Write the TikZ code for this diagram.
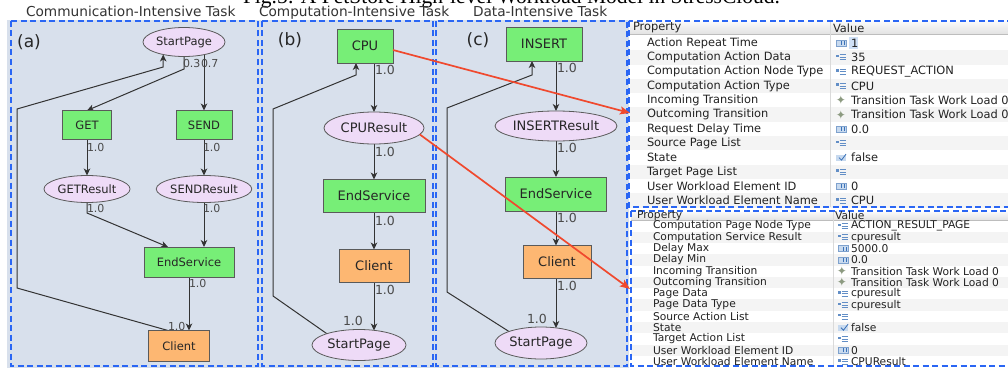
\documentclass[tikz,border=0pt]{standalone}
\usepackage{fontspec}
\setmainfont{DejaVu Sans}
\newfontfamily\captionserif{Liberation Serif}
\usetikzlibrary{arrows.meta,shapes.geometric}

\definecolor{panelbg}{HTML}{D8E0EC}
\definecolor{dashblue}{HTML}{2A66F4}
\definecolor{actgreen}{HTML}{77EE77}
\definecolor{cliorange}{HTML}{FDB772}
\definecolor{pagepink}{HTML}{EEDBF7}
\definecolor{nodeedge}{HTML}{5A5A5A}
\definecolor{nodetext}{HTML}{262626}
\definecolor{flowgray}{HTML}{333333}
\definecolor{probgray}{HTML}{4A4A4A}
\definecolor{redarrow}{HTML}{F0492E}
\definecolor{rowstripe}{HTML}{F4F4F4}
\definecolor{headtop}{HTML}{F9F9F9}
\definecolor{headbot}{HTML}{E2E2E2}
\definecolor{headline}{HTML}{BDBDBD}
\definecolor{coldiv}{HTML}{DADADA}
\definecolor{tabtext}{HTML}{222222}
\definecolor{iconfill}{HTML}{C8DAEF}
\definecolor{iconline}{HTML}{7FA2CE}
\definecolor{iconblue}{HTML}{3B72B8}
\definecolor{transicon}{HTML}{8C9A80}
\definecolor{selblue}{HTML}{CFE0F6}

\pgfdeclarelayer{panels}
\pgfdeclarelayer{links}
\pgfsetlayers{panels,links,main}

\begin{document}
\begin{tikzpicture}[x=1pt,y=-1pt,
  every node/.style={inner sep=0pt,outer sep=0pt},
  wfbox/.style={rectangle,draw=nodeedge,line width=0.8pt,text=nodetext},
  actionnode/.style={wfbox,fill=actgreen},
  clientnode/.style={wfbox,fill=cliorange},
  pagenode/.style={ellipse,draw=nodeedge,line width=0.8pt,fill=pagepink,text=nodetext},
  fsmall/.style={font=\fontsize{11.5}{11.5}\selectfont},
  flarge/.style={font=\fontsize{13}{13}\selectfont},
  flow/.style={draw=flowgray,line width=1pt,-{Stealth[length=7pt,width=6.5pt,inset=2pt]}},
  prob/.style={anchor=west,text=probgray,font=\fontsize{11}{11}\selectfont},
  probl/.style={prob,font=\fontsize{12.5}{12.5}\selectfont},
  panelframe/.style={draw=dashblue,line width=1.7pt,dash pattern=on 6pt off 3.5pt},
  redlink/.style={draw=redarrow,line width=1.7pt,-{Stealth[length=10pt,width=8pt,inset=2pt]}},
  tasklabel/.style={anchor=base west,text=black!80,font=\fontsize{13.7}{13.7}\selectfont},
  panelname/.style={text=black!85,font=\fontsize{17}{17}\selectfont},
  proptext/.style={anchor=west,text=tabtext,font=\fontsize{11.4}{11.4}\selectfont},
  propsmall/.style={anchor=west,text=tabtext,font=\fontsize{10.7}{10.7}\selectfont},
  numicon/.pic={\fill[iconfill] (0,-3) rectangle (10,3);
    \draw[iconline,line width=0.4pt] (0,-3) rectangle (10,3);
    \fill[iconblue] (5,-2) rectangle (6,2); \fill[iconblue] (7.5,-2) rectangle (8.5,2);},
  listicon/.pic={\fill[iconblue!80] (0,-2.5) rectangle (2.5,0);
    \draw[iconblue!80,line width=0.7pt] (3.5,-2.5) -- (10,-2.5) (3.5,0) -- (10,0) (3.5,2.5) -- (10,2.5);},
  boolicon/.pic={\fill[iconfill] (0,-3) rectangle (10,3);
    \draw[iconblue,line width=0.8pt] (3,0) -- (5.5,2.5) -- (10,-3.5);},
  transmark/.pic={\node[text=transicon,font=\fontsize{12}{12}\selectfont] at (5,0) {✦};}
]
\useasboundingbox (0,0) rectangle (1008,369);

% ---------- backgrounds, tables and frames ----------
\begin{pgfonlayer}{panels}
  \fill[white] (0,0) rectangle (1008,369);
  \fill[panelbg] (7,20) rectangle (629,368);

  % upper property sheet
  \fill[white] (630,22) rectangle (1008,207);
  \foreach \i in {1,3,...,11}
    \fill[rowstripe] (630,{43+14.33*\i-7.17}) rectangle (1008,{43+14.33*\i+7.17});
  \shade[top color=headtop,bottom color=headbot] (630,22) rectangle (1008,34);
  \draw[headline] (630,34) -- (1008,34);
  \draw[coldiv] (830,22) -- (830,207);

  % lower property sheet
  \fill[white] (631,211) rectangle (1008,367);
  \foreach \i in {1,3,...,11}
    \fill[rowstripe] (631,{226+11.3*\i-5.65}) rectangle (1008,{226+11.3*\i+5.65});
  \shade[top color=headtop,bottom color=headbot] (631,212) rectangle (1008,220);
  \draw[headline] (631,220) -- (1008,220);
  \draw[coldiv] (833,212) -- (833,367);

  \draw[panelframe] (11,21) rectangle (258,366);
  \draw[panelframe] (262,21) rectangle (433,366);
  \draw[panelframe] (436,21) rectangle (627,366);
  \draw[panelframe] (629,21) rectangle (1015,207);
  \draw[panelframe] (631,211) rectangle (1015,366);
\end{pgfonlayer}

% ---------- caption and task titles ----------
\node[anchor=base west,font=\captionserif\fontsize{21.5}{21.5}\selectfont] (caption) at (243,4)
  {Fig.5: A PetStore High-level Workload Model in StressCloud.};
\node[tasklabel] (t-comm) at (26,16.5) {Communication-Intensive Task};
\node[tasklabel] (t-comp) at (259,16.5) {Computation-Intensive Task};
\node[tasklabel] (t-data) at (473,16.5) {Data-Intensive Task};

\node[panelname] (n-a) at (29,42) {(a)};
\node[panelname] (n-b) at (290,40) {(b)};
\node[panelname] (n-c) at (478,40) {(c)};

% ---------- (a) communication-intensive model ----------
\node[pagenode,fsmall,minimum width=82,minimum height=29] (a-sp) at (184,42) {StartPage};
\node[actionnode,fsmall,minimum width=49,minimum height=29] (a-get) at (87,125) {GET};
\node[actionnode,fsmall,minimum width=56,minimum height=29] (a-send) at (204,125) {SEND};
\node[pagenode,fsmall,minimum width=86,minimum height=27] (a-getr) at (87,189) {GETResult};
\node[pagenode,fsmall,minimum width=95,minimum height=27] (a-sendr) at (204,189) {SENDResult};
\node[actionnode,fsmall,minimum width=90,minimum height=30] (a-end) at (189,262) {EndService};
\node[clientnode,fsmall,minimum width=61,minimum height=31] (a-cli) at (179,346) {Client};

\coordinate (a-k1) at (17,288);
\coordinate (a-k2) at (17,109);
\coordinate (a-ky) at (0,67);

% ---------- (b) computation-intensive model ----------
\node[actionnode,flarge,minimum width=56,minimum height=34] (b-cpu) at (365,46) {CPU};
\node[pagenode,flarge,minimum width=100,minimum height=32] (b-cpur) at (374,128) {CPUResult};
\node[actionnode,flarge,minimum width=102,minimum height=33] (b-end) at (374,196) {EndService};
\node[clientnode,flarge,minimum width=70,minimum height=33] (b-cli) at (374,266) {Client};
\node[pagenode,flarge,minimum width=94,minimum height=31] (b-sp) at (359,345) {StartPage};

\coordinate (b-k1) at (273,296);
\coordinate (b-k2) at (273,109);
\coordinate (b-k3) at (356,75);

% ---------- (c) data-intensive model ----------
\node[actionnode,flarge,minimum width=76,minimum height=34] (c-ins) at (544,44) {INSERT};
\node[pagenode,flarge,minimum width=119,minimum height=30] (c-insr) at (556,126) {INSERTResult};
\node[actionnode,flarge,minimum width=101,minimum height=34] (c-end) at (556,194) {EndService};
\node[clientnode,flarge,minimum width=68,minimum height=33] (c-cli) at (557,262) {Client};
\node[pagenode,flarge,minimum width=92,minimum height=32] (c-sp) at (541,343) {StartPage};

\coordinate (c-k1) at (447,292);
\coordinate (c-k2) at (447,108);
\coordinate (c-k3) at (532,75);

% ---------- transitions ----------
\begin{pgfonlayer}{links}
  % (a)
  \draw[flow] (a-sp.center) -- ++(0,27) -- (a-get.north);
  \draw[flow] (a-send.north |- a-sp.center) -- (a-send.north);
  \draw[flow] (a-get.south) -- (a-getr.north);
  \draw[flow] (a-send.south) -- (a-sendr.north);
  \draw[flow] (a-getr.center) -- ++(0,24) -- ([xshift=-21pt]a-end.north);
  \draw[flow] (a-sendr.south) -- (a-sendr.south |- a-end.north);
  \draw[flow] (a-end.south) -- (a-end.south |- a-cli.north);
  \draw[flow] ([xshift=-11pt]a-cli.north) -- (a-k1) -- (a-k2)
    -- (a-sp.211 |- a-ky) -- (a-sp.211);
  % (b)
  \draw[flow] (b-cpur.north |- b-cpu.south) -- (b-cpur.north);
  \draw[flow] (b-cpur.south) -- (b-end.north);
  \draw[flow] (b-end.south) -- (b-cli.north);
  \draw[flow] (b-cli.south) -- ([yshift=-1pt]b-cli.south |- b-sp.north);
  \draw[flow] ([xshift=-16pt]b-sp.center) -- (b-k1) -- (b-k2) -- (b-k3)
    -- (b-k3 |- b-cpu.south);
  % (c)
  \draw[flow] (c-insr.north |- c-ins.south) -- (c-insr.north);
  \draw[flow] (c-insr.south) -- (c-end.north);
  \draw[flow] (c-end.south) -- (c-end.south |- c-cli.north);
  \draw[flow] (c-end.south |- c-cli.south) -- ([yshift=-1pt]c-end.south |- c-sp.north);
  \draw[flow] ([xshift=-14pt]c-sp.center) -- (c-k1) -- (c-k2) -- (c-k3)
    -- (c-k3 |- c-ins.south);
\end{pgfonlayer}

% ---------- transition probabilities ----------
\node[prob] (pa1) at (183,63) {0.3};
\node[prob] (pa2) at (201,63) {0.7};
\node[prob] (pa3) at (87,147) {1.0};
\node[prob] (pa4) at (203,147) {1.0};
\node[prob] (pa5) at (87,208) {1.0};
\node[prob] (pa6) at (203,208) {1.0};
\node[prob] (pa7) at (189,283) {1.0};
\node[prob] (pa8) at (168,326) {1.0};

\node[probl] (pb1) at (375,70) {1.0};
\node[probl] (pb2) at (375,152) {1.0};
\node[probl] (pb3) at (375,221) {1.0};
\node[probl] (pb4) at (375,290) {1.0};
\node[probl] (pb5) at (343,321) {1.0};

\node[probl] (pc1) at (557,68) {1.0};
\node[probl] (pc2) at (557,148) {1.0};
\node[probl] (pc3) at (557,218) {1.0};
\node[probl] (pc4) at (557,286) {1.0};
\node[probl] (pc5) at (527,319) {1.0};

% ---------- property sheet contents ----------
\node[proptext] (h1p) at (633,28) {Property};
\node[proptext] (h1v) at (833,28) {Value};
\fill[selblue] (849,37) rectangle (858,49);
\foreach \lab/\val [count=\i from 0] in {
    Action Repeat Time/1,
    Computation Action Data/35,
    Computation Action Node Type/REQUEST\_ACTION,
    Computation Action Type/CPU,
    Incoming Transition/Transition Task Work Load 0,
    Outcoming Transition/Transition Task Work Load 0,
    Request Delay Time/0.0,
    Source Page List/{},
    State/false,
    Target Page List/{},
    User Workload Element ID/0,
    User Workload Element Name/CPU}{
  \node[proptext] at (647,{43+14.33*\i}) {\lab};
  \node[proptext] at (851,{43+14.33*\i}) {\val};
}
\foreach \i in {0,6,10} \pic at (836,{43+14.33*\i}) {numicon};
\foreach \i in {1,2,3,7,9,11} \pic at (836,{43+14.33*\i}) {listicon};
\foreach \i in {4,5} \pic at (836,{43+14.33*\i}) {transmark};
\pic at (836,{43+14.33*8}) {boolicon};

\node[propsmall] (h2p) at (637,215.5) {Property};
\node[propsmall] (h2v) at (835,215.5) {Value};
\foreach \lab/\val [count=\i from 0] in {
    Computation Page Node Type/ACTION\_RESULT\_PAGE,
    Computation Service Result/cpuresult,
    Delay Max/5000.0,
    Delay Min/0.0,
    Incoming Transition/Transition Task Work Load 0,
    Outcoming Transition/Transition Task Work Load 0,
    Page Data/cpuresult,
    Page Data Type/cpuresult,
    Source Action List/{},
    State/false,
    Target Action List/{},
    User Workload Element ID/0,
    User Workload Element Name/CPUResult}{
  \node[propsmall] at (653,{226+11.3*\i}) {\lab};
  \node[propsmall] at (851,{226+11.3*\i}) {\val};
}
\foreach \i in {2,3,11} \pic at (838,{226+11.3*\i}) {numicon};
\foreach \i in {0,1,6,7,8,10,12} \pic at (838,{226+11.3*\i}) {listicon};
\foreach \i in {4,5} \pic at (837,{226+11.3*\i}) {transmark};
\pic at (838,{226+11.3*9}) {boolicon};

% ---------- links from model elements to their properties ----------
\coordinate (sheet1) at (630,113);
\coordinate (sheet2) at (630,289);
\draw[redlink] ([yshift=-4pt]b-cpu.east) -- (sheet1);
\draw[redlink] (b-cpur.-8) -- (sheet2);
\end{tikzpicture}
\end{document}
